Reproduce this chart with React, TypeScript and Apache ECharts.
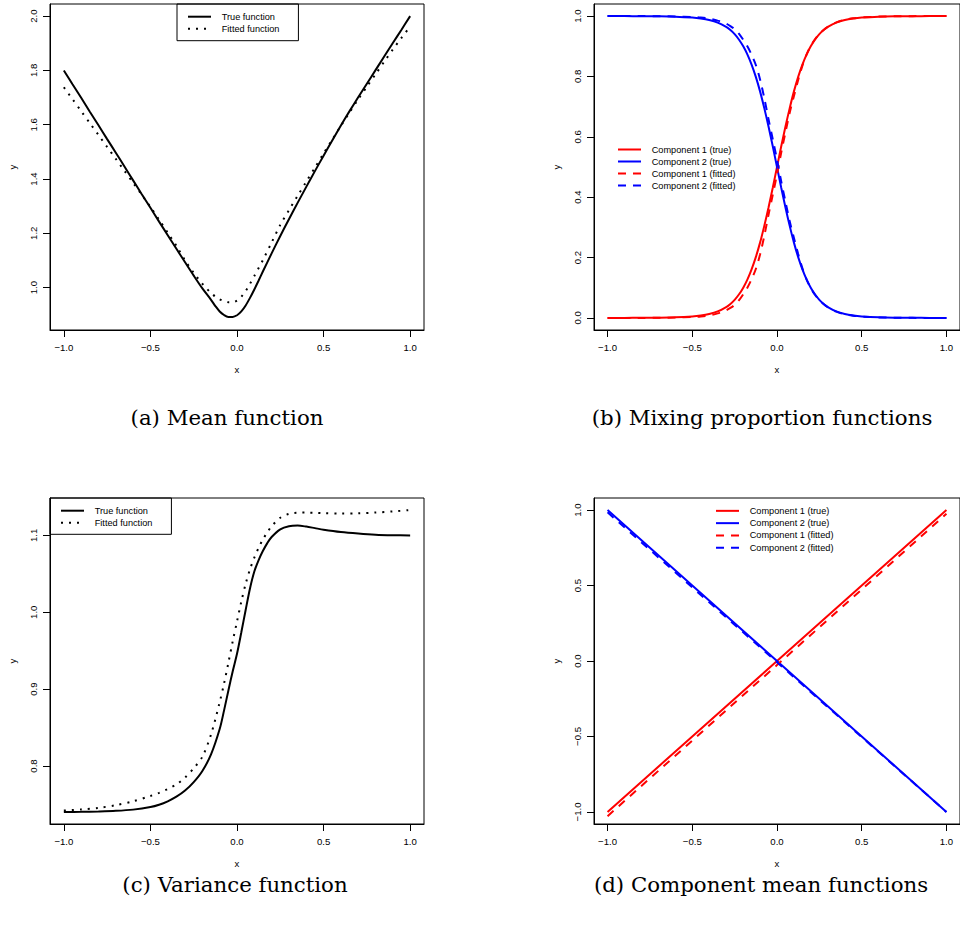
import React, { useEffect, useRef } from "react";
import * as echarts from "echarts";

// ---------- data ----------
const X_TICKS = [-1, -0.5, 0, 0.5, 1];
const Y_TICKS_A = [1.0, 1.2, 1.4, 1.6, 1.8, 2.0];
const Y_TICKS_B = [0, 0.2, 0.4, 0.6, 0.8, 1.0];
const Y_TICKS_C = [0.8, 0.9, 1.0, 1.1];
const Y_TICKS_D = [-1, -0.5, 0, 0.5, 1];

// (a) mean function
const XA = [-1, -0.95, -0.9, -0.85, -0.8, -0.75, -0.7, -0.65, -0.6, -0.55, -0.5, -0.45, -0.4, -0.35, -0.3, -0.25, -0.2, -0.15, -0.125, -0.1, -0.075, -0.05, -0.025, 0, 0.025, 0.05, 0.075, 0.1, 0.125, 0.15, 0.2, 0.25, 0.3, 0.35, 0.4, 0.45, 0.5, 0.55, 0.6, 0.65, 0.7, 0.75, 0.8, 0.85, 0.9, 0.95, 1];
const MEAN_TRUE = [1.8, 1.749, 1.699, 1.648, 1.598, 1.547, 1.497, 1.446, 1.395, 1.344, 1.294, 1.243, 1.193, 1.143, 1.093, 1.044, 0.997, 0.955, 0.932, 0.912, 0.899, 0.892, 0.892, 0.898, 0.912, 0.934, 0.962, 0.993, 1.026, 1.06, 1.126, 1.19, 1.252, 1.312, 1.371, 1.429, 1.486, 1.542, 1.597, 1.65, 1.701, 1.751, 1.801, 1.851, 1.901, 1.95, 2.0];
const MEAN_FIT = [1.738, 1.694, 1.65, 1.606, 1.562, 1.518, 1.474, 1.43, 1.386, 1.342, 1.297, 1.25, 1.202, 1.154, 1.1, 1.054, 1.014, 0.98, 0.967, 0.957, 0.95, 0.946, 0.946, 0.952, 0.966, 0.987, 1.014, 1.043, 1.072, 1.102, 1.166, 1.231, 1.285, 1.338, 1.39, 1.442, 1.494, 1.545, 1.596, 1.645, 1.694, 1.74, 1.786, 1.832, 1.877, 1.92, 1.962];

// (b) mixing proportions
const XB = [-1, -0.9, -0.8, -0.7, -0.6, -0.5, -0.45, -0.4, -0.35, -0.3, -0.275, -0.25, -0.225, -0.2, -0.175, -0.15, -0.125, -0.1, -0.075, -0.05, -0.025, 0, 0.025, 0.05, 0.075, 0.1, 0.125, 0.15, 0.175, 0.2, 0.225, 0.25, 0.275, 0.3, 0.35, 0.4, 0.45, 0.5, 0.6, 0.7, 0.8, 0.9, 1];
const PROP1_TRUE = [0.0, 0.0001, 0.0003, 0.0008, 0.002, 0.005, 0.008, 0.013, 0.0215, 0.036, 0.0465, 0.06, 0.0775, 0.0995, 0.127, 0.161, 0.2015, 0.2495, 0.305, 0.366, 0.4315, 0.5, 0.5685, 0.634, 0.695, 0.7505, 0.7985, 0.839, 0.873, 0.9005, 0.9225, 0.94, 0.9535, 0.964, 0.9785, 0.987, 0.992, 0.995, 0.998, 0.9992, 0.9997, 0.9999, 1.0];
const PROP2_TRUE = [1.0, 0.9999, 0.9997, 0.9992, 0.998, 0.995, 0.992, 0.987, 0.9785, 0.964, 0.9535, 0.94, 0.9225, 0.9005, 0.873, 0.839, 0.7985, 0.7505, 0.695, 0.634, 0.5685, 0.5, 0.4315, 0.366, 0.305, 0.2495, 0.2015, 0.161, 0.127, 0.0995, 0.0775, 0.06, 0.0465, 0.036, 0.0215, 0.013, 0.008, 0.005, 0.002, 0.0008, 0.0003, 0.0001, 0.0];
const PROP1_FIT = [0.0, 0.0, 0.0001, 0.0004, 0.0012, 0.003, 0.005, 0.0085, 0.015, 0.025, 0.033, 0.043, 0.058, 0.078, 0.1, 0.128, 0.162, 0.21, 0.272, 0.342, 0.408, 0.475, 0.548, 0.615, 0.68, 0.735, 0.788, 0.836, 0.873, 0.902, 0.924, 0.941, 0.954, 0.9645, 0.979, 0.9875, 0.9925, 0.9955, 0.9983, 0.9994, 0.9998, 0.9999, 1.0];
const PROP2_FIT = [1.0, 1.0, 0.9999, 0.9996, 0.9988, 0.997, 0.995, 0.9915, 0.985, 0.975, 0.967, 0.957, 0.942, 0.922, 0.9, 0.872, 0.838, 0.79, 0.728, 0.658, 0.592, 0.525, 0.452, 0.385, 0.32, 0.265, 0.212, 0.164, 0.127, 0.098, 0.076, 0.059, 0.046, 0.0355, 0.021, 0.0125, 0.0075, 0.0045, 0.0017, 0.0006, 0.0002, 0.0001, 0.0];

// (c) variance function
const XC = [-1, -0.9, -0.8, -0.7, -0.6, -0.5, -0.45, -0.4, -0.35, -0.3, -0.25, -0.2, -0.15, -0.1, -0.075, -0.05, -0.025, 0, 0.025, 0.05, 0.075, 0.1, 0.125, 0.15, 0.175, 0.2, 0.25, 0.3, 0.35, 0.4, 0.45, 0.5, 0.6, 0.7, 0.8, 0.9, 1];
const VAR_TRUE = [0.74, 0.7403, 0.7408, 0.7416, 0.7432, 0.7465, 0.7495, 0.754, 0.76, 0.768, 0.779, 0.7935, 0.815, 0.848, 0.872, 0.898, 0.923, 0.946, 0.974, 1.003, 1.031, 1.053, 1.068, 1.08, 1.09, 1.098, 1.108, 1.112, 1.1128, 1.1115, 1.1095, 1.1075, 1.1045, 1.1025, 1.101, 1.1003, 1.1];
const VAR_FIT = [0.742, 0.7435, 0.7455, 0.749, 0.754, 0.761, 0.765, 0.77, 0.776, 0.785, 0.797, 0.812, 0.841, 0.883, 0.907, 0.934, 0.962, 0.988, 1.014, 1.037, 1.056, 1.071, 1.084, 1.095, 1.104, 1.112, 1.123, 1.128, 1.1295, 1.1297, 1.1295, 1.129, 1.1285, 1.1288, 1.1298, 1.1312, 1.133];

// (d) component mean functions
const XD = [-1, -0.5, 0, 0.5, 1];
const COMP1_TRUE = [-1, -0.5, 0, 0.5, 1];
const COMP2_TRUE = [1, 0.5, 0, -0.5, -1];
const COMP1_FIT = [-1.028, -0.527, -0.027, 0.474, 0.975];
const COMP2_FIT = [0.985, 0.488, -0.008, -0.504, -1.0];

const CAPTIONS = ["(a) Mean function", "(b) Mixing proportion functions", "(c) Variance function", "(d) Component mean functions"];

// ---------- helpers ----------
const SANS = '"Liberation Sans", Arial, Helvetica, sans-serif';
const SERIF = '"DejaVu Serif", serif';
const RED = "#ff0000";
const BLUE = "#0000ff";
const BLACK = "#000000";
const DOT: number[] = [2, 6];
const DASH: number[] = [8, 7];

const pts = (xs: number[], ys: number[]) => xs.map((x, i) => [x, ys[i]]);
const fmt = (v: number) => {
  const s = Math.abs(v).toFixed(1);
  return v < -1e-9 ? "\u2212" + s : s;
};

const GRIDS = [
  { left: 50, top: 4, width: 374, height: 326 },
  { left: 594, top: 4, width: 373, height: 326 },
  { left: 50, top: 498, width: 374, height: 326 },
  { left: 594, top: 498, width: 373, height: 326 },
];
const Y_RANGES = [
  [0.8437, 2.0447],
  [-0.04, 1.04],
  [0.7245, 1.1487],
  [-1.08, 1.08],
];
const Y_TICKS = [Y_TICKS_A, Y_TICKS_B, Y_TICKS_C, Y_TICKS_D];
const CAPTION_POS = [
  [227, 417],
  [762, 417],
  [235, 884],
  [761, 884],
];

const axisText = { fontFamily: SANS, fontSize: 9.6, color: BLACK };

function makeX(gi: number) {
  return {
    type: "value",
    gridIndex: gi,
    min: -1.08,
    max: 1.08,
    name: "x",
    nameLocation: "middle",
    nameGap: 34,
    nameTextStyle: axisText,
    axisLine: { show: true, onZero: false, lineStyle: { color: BLACK, width: 1 } },
    axisTick: { show: true, inside: false, length: 7, lineStyle: { color: BLACK, width: 1 }, customValues: X_TICKS },
    axisLabel: { show: true, margin: 12, customValues: X_TICKS, formatter: fmt, ...axisText },
    splitLine: { show: false },
  };
}
function makeY(gi: number) {
  return {
    type: "value",
    gridIndex: gi,
    min: Y_RANGES[gi][0],
    max: Y_RANGES[gi][1],
    name: "y",
    nameLocation: "middle",
    nameGap: 33,
    nameTextStyle: axisText,
    axisLine: { show: true, onZero: false, lineStyle: { color: BLACK, width: 1 } },
    axisTick: { show: true, inside: false, length: 7, lineStyle: { color: BLACK, width: 1 }, customValues: Y_TICKS[gi] },
    axisLabel: { show: true, margin: 12, rotate: 90, customValues: Y_TICKS[gi], formatter: fmt, ...axisText },
    splitLine: { show: false },
  };
}
function line(name: string, gi: number, xs: number[], ys: number[], color: string, type: any, smooth: number | boolean) {
  return {
    type: "line",
    name,
    xAxisIndex: gi,
    yAxisIndex: gi,
    data: pts(xs, ys),
    symbol: "none",
    showSymbol: false,
    smooth,
    color,
    lineStyle: { color, width: 2, type, cap: "butt" },
    itemStyle: { color },
    emphasis: { disabled: true },
    silent: true,
    z: 3,
  };
}
const legendText = (size: number, lh: number) => ({ fontFamily: SANS, fontSize: size, lineHeight: lh, color: BLACK, padding: [0, 0, 0, 5.7] });
const hiddenSymbol = { opacity: 0, color: "transparent", borderWidth: 0 };

export default function App() {
  const ref = useRef<HTMLDivElement>(null);
  useEffect(() => {
    if (!ref.current) return;
    const chart = echarts.init(ref.current, undefined, { renderer: "svg" });
    const option: any = {
      animation: false,
      backgroundColor: "#ffffff",
      grid: GRIDS.map((g) => ({ ...g, show: true, borderColor: BLACK, borderWidth: 1, backgroundColor: "transparent", containLabel: false })),
      xAxis: [0, 1, 2, 3].map(makeX),
      yAxis: [0, 1, 2, 3].map(makeY),
      legend: [
        {
          orient: "vertical", left: 177, top: 4, padding: [6.7, 19, 6, 10],
          itemWidth: 23, itemHeight: 12, itemGap: 0, borderColor: BLACK, borderWidth: 1,
          itemStyle: hiddenSymbol,
          selectedMode: false, data: ["True function", "Fitted function"], textStyle: legendText(9.2, 12),
        },
        {
          orient: "vertical", left: 617, top: 143.5, padding: 0,
          itemWidth: 23, itemHeight: 12, itemGap: 0, borderWidth: 0,
          itemStyle: hiddenSymbol,
          selectedMode: false,
          data: ["Component 1 (true)", "Component 2 (true)", "Component 1 (fitted)", "Component 2 (fitted)"],
          textStyle: legendText(9.2, 12),
        },
        {
          orient: "vertical", left: 50, top: 498, padding: [6.7, 19, 5.6, 10],
          itemWidth: 23, itemHeight: 12, itemGap: 0, borderColor: BLACK, borderWidth: 1,
          itemStyle: hiddenSymbol,
          selectedMode: false, data: ["True function", "Fitted function"], textStyle: legendText(9.2, 12),
        },
        {
          orient: "vertical", left: 715, top: 504.7, padding: 0,
          itemWidth: 23, itemHeight: 12.3, itemGap: 0, borderWidth: 0,
          itemStyle: hiddenSymbol,
          selectedMode: false,
          data: ["Component 1 (true)", "Component 2 (true)", "Component 1 (fitted)", "Component 2 (fitted)"],
          textStyle: legendText(9.2, 12.3),
        },
      ],
      series: [
        line("True function", 0, XA, MEAN_TRUE, BLACK, "solid", 0.3),
        line("Fitted function", 0, XA, MEAN_FIT, BLACK, DOT, 0.3),
        line("Component 1 (true)", 1, XB, PROP1_TRUE, RED, "solid", 0.3),
        line("Component 2 (true)", 1, XB, PROP2_TRUE, BLUE, "solid", 0.3),
        line("Component 1 (fitted)", 1, XB, PROP1_FIT, RED, DASH, 0.3),
        line("Component 2 (fitted)", 1, XB, PROP2_FIT, BLUE, DASH, 0.3),
        line("True function", 2, XC, VAR_TRUE, BLACK, "solid", 0.3),
        line("Fitted function", 2, XC, VAR_FIT, BLACK, DOT, 0.3),
        line("Component 1 (true)", 3, XD, COMP1_TRUE, RED, "solid", false),
        line("Component 2 (true)", 3, XD, COMP2_TRUE, BLUE, "solid", false),
        line("Component 1 (fitted)", 3, XD, COMP1_FIT, RED, DASH, false),
        line("Component 2 (fitted)", 3, XD, COMP2_FIT, BLUE, DASH, false),
      ],
      graphic: CAPTIONS.map((t, i) => ({
        type: "text",
        x: CAPTION_POS[i][0],
        y: CAPTION_POS[i][1],
        silent: true,
        style: { text: t, fontFamily: SERIF, fontSize: 21.3, fill: BLACK, align: "center", verticalAlign: "middle" },
      })),
    };
    chart.setOption(option);
    return () => chart.dispose();
  }, []);
  return (
    <div
      ref={ref}
      style={{ position: "absolute", left: 0, top: 0, width: 960, height: 932, background: "#fff" }}
    />
  );
}
